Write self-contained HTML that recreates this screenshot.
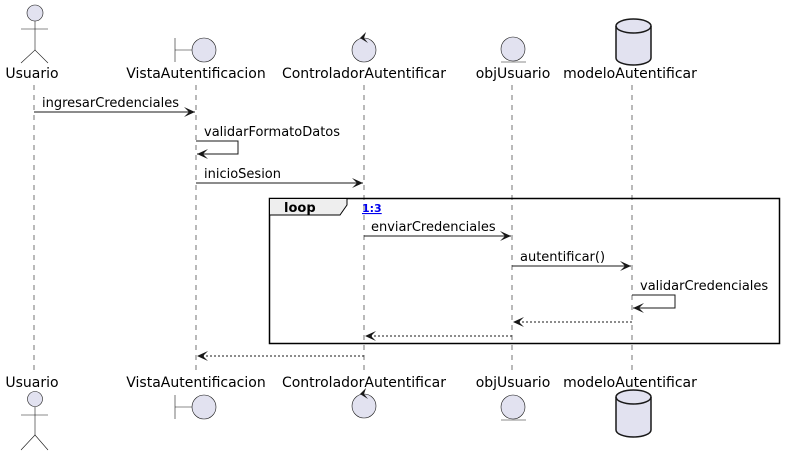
<!DOCTYPE html>
<html><head><meta charset="utf-8"><style>
html,body{margin:0;padding:0;background:#fff;}
svg{display:block;}
text{font-family:"DejaVu Sans","Liberation Sans",sans-serif;font-size:13px;fill:#000;}
text.n{font-size:14px;}
</style></head><body>
<svg width="785" height="455" xmlns="http://www.w3.org/2000/svg">
<defs>
<marker id="a" markerWidth="14" markerHeight="12" refX="11" refY="5" orient="auto" markerUnits="userSpaceOnUse">
<polygon points="0,0 11,5 0,10 5,5" fill="#181818"/>
</marker>
</defs>
<g stroke="#181818" stroke-width="0.6" stroke-dasharray="5,5">
<line x1="34" y1="85" x2="34" y2="370"/>
<line x1="196" y1="85" x2="196" y2="370"/>
<line x1="364" y1="85" x2="364" y2="370"/>
<line x1="512" y1="85" x2="512" y2="370"/>
<line x1="632" y1="85" x2="632" y2="370"/>
</g>
<rect x="269.5" y="198.5" width="510" height="145" fill="none" stroke="#000" stroke-width="1.5"/>
<polygon points="269.5,198.5 347,198.5 347,205 340,215 269.5,215" fill="#eee" stroke="#000" stroke-width="1"/>
<text x="284" y="212" style="font-weight:bold">loop</text>
<text x="362" y="212" style="font-size:11px;font-weight:bold;fill:#0000ee;text-decoration:underline">1:3</text>
<g stroke="#181818" stroke-width="1" fill="none">
<line x1="34" y1="112" x2="195" y2="112" marker-end="url(#a)"/>
<polyline points="196,141 238,141 238,154 197,154" marker-end="url(#a)"/>
<line x1="196" y1="183" x2="363" y2="183" marker-end="url(#a)"/>
<line x1="364" y1="236" x2="511" y2="236" marker-end="url(#a)"/>
<line x1="512" y1="266" x2="631" y2="266" marker-end="url(#a)"/>
<polyline points="632,295 675,295 675,308 633,308" marker-end="url(#a)"/>
<line x1="632" y1="322" x2="513" y2="322" stroke-dasharray="2,2" marker-end="url(#a)"/>
<line x1="512" y1="336" x2="365" y2="336" stroke-dasharray="2,2" marker-end="url(#a)"/>
<line x1="364" y1="356" x2="197" y2="356" stroke-dasharray="2,2" marker-end="url(#a)"/>
</g>
<text x="42" y="107">ingresarCredenciales</text>
<text x="204" y="136">validarFormatoDatos</text>
<text x="204" y="178">inicioSesion</text>
<text x="371" y="231">enviarCredenciales</text>
<text x="520" y="261">autentificar()</text>
<text x="640" y="290">validarCredenciales</text>
<g>
<text class="n" x="32" y="78" text-anchor="middle">Usuario</text>
<text class="n" x="196" y="78" text-anchor="middle">VistaAutentificacion</text>
<text class="n" x="364" y="78" text-anchor="middle">ControladorAutentificar</text>
<text class="n" x="513" y="78" text-anchor="middle">objUsuario</text>
<text class="n" x="630" y="78" text-anchor="middle">modeloAutentificar</text>
<text class="n" x="32" y="387" text-anchor="middle">Usuario</text>
<text class="n" x="196" y="387" text-anchor="middle">VistaAutentificacion</text>
<text class="n" x="364" y="387" text-anchor="middle">ControladorAutentificar</text>
<text class="n" x="513" y="387" text-anchor="middle">objUsuario</text>
<text class="n" x="630" y="387" text-anchor="middle">modeloAutentificar</text>
</g>
<g fill="#e2e2f0" stroke="#181818" stroke-width="0.6">
<circle cx="35" cy="13" r="8"/>
<line x1="35" y1="21" x2="35" y2="50"/><line x1="21" y1="29" x2="48" y2="29"/>
<polyline points="21,63 35,50 48,63" fill="none"/>
<line x1="175" y1="38" x2="175" y2="62"/><line x1="175" y1="50" x2="192" y2="50"/>
<circle cx="204" cy="50" r="12"/>
<circle cx="364" cy="50" r="12"/>
<circle cx="513" cy="49" r="12"/>
<line x1="501" y1="62" x2="526" y2="62"/>
</g>
<polygon points="366,32 360,38 368,43 364,38" fill="#181818"/>
<g fill="#e2e2f0" stroke="#181818" stroke-width="1.5">
<path d="M616,26 A17.5,7 0 0 1 651,26 L651,58 A17.5,7 0 0 1 616,58 Z"/>
<path d="M616,26 A17.5,7 0 0 0 651,26" fill="none"/>
</g>
<g fill="#e2e2f0" stroke="#181818" stroke-width="0.6">
<circle cx="35" cy="399" r="7.5"/>
<line x1="35" y1="407" x2="35" y2="435"/><line x1="21" y1="415" x2="48" y2="415"/>
<polyline points="21,450 35,435 48,450" fill="none"/>
<line x1="175" y1="395" x2="175" y2="419"/><line x1="175" y1="407" x2="192" y2="407"/>
<circle cx="204" cy="407" r="12"/>
<circle cx="364" cy="406" r="12"/>
<circle cx="513" cy="407" r="12"/>
<line x1="501" y1="420" x2="526" y2="420"/>
</g>
<polygon points="366,388 360,394 368,399 364,394" fill="#181818"/>
<g fill="#e2e2f0" stroke="#181818" stroke-width="1.5">
<path d="M616,397 A17.5,7 0 0 1 651,397 L651,430 A17.5,7 0 0 1 616,430 Z"/>
<path d="M616,397 A17.5,7 0 0 0 651,397" fill="none"/>
</g>
</svg>
</body></html>
